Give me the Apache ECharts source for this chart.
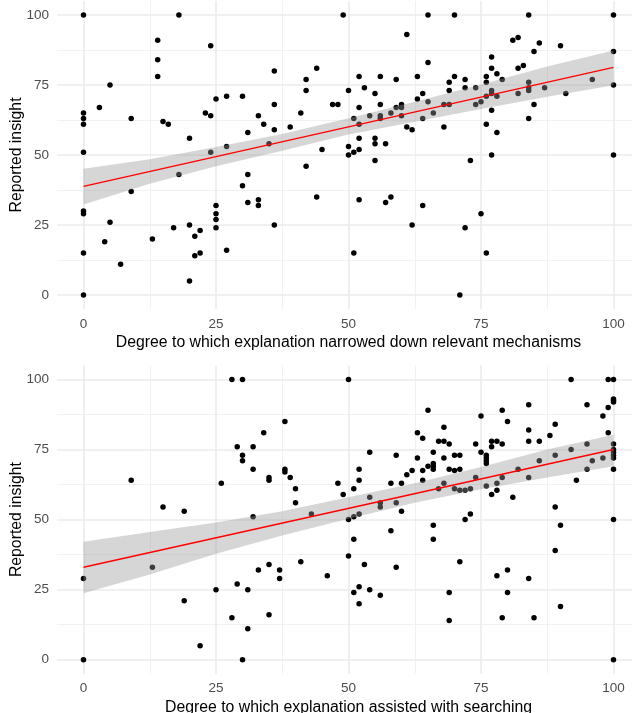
<!DOCTYPE html>
<html><head><meta charset="utf-8">
<script src="https://cdn.jsdelivr.net/npm/echarts@6/dist/echarts.min.js"></script>
<style>html,body{margin:0;padding:0;background:#fff}#c{width:632px;height:713px}</style>
</head><body><div id="c"></div>
<script>
// ---- Data: top panel (narrowed down relevant mechanisms) ----
const topX = [0,0,0,0,0,3,5,9,14,14,14,18,15,16,20,23,24,24,25,27,24,27,30,31,33,34,36,36,36,35,39,41,42,42,44,45,
 49,47,48,50,52,53,55,56,59,61,63,65,65,64,63,65,70,69,70,69,72,72,74,76,76,77,77,78,79,77,77,76,78,75,74,81,82,84,86,85,82,83,84,84,84,82,87,90,91,96,100,100,100,85,84,
 51,52,52,54,56,56,56,58,59,60,60,60,61,62,64,66,68,69,68,76,77,78,50,50,51,52,52,55,55,57,55,73,77,100,
 52,57,58,64,62,72,75,76,51,71,
 18,9,0,0,5,4,0,7,0,13,17,20,21,22,21,22,20,25,25,25,25,27,30,31,31,33,33,36,42,44];
const topY = [100,65,63,61,51,67,75,63,91,84,78,100,62,61,56,65,89,64,70,71,51,53,71,58,64,61,80,68,59,54,60,65,73,77,81,52,
 100,68,68,73,78,74,72,78,77,93,78,100,83,72,70,69,100,76,78,73,77,74,74,78,76,85,81,79,77,73,72,71,71,69,68,91,92,100,90,87,81,82,76,74,73,72,74,89,72,77,100,87,75,68,63,
 63,61,67,64,64,63,68,65,67,68,67,64,60,59,63,65,68,68,60,61,66,58,53,50,51,52,56,56,54,54,48,48,50,50,
 34,33,35,32,25,24,29,15,15,0,
 43,37,30,29,26,19,15,11,0,20,24,25,21,23,14,15,5,32,29,27,24,16,39,43,33,34,32,25,46,35];

// ---- Data: bottom panel (assisted with searching) ----
const botX = [9,15,19,28,30,29,30,30,32,32,34,26,35,35,38,38,38,39,40,40,32,43,
 0,0,13,19,22,25,28,29,31,31,30,33,35,35,37,37,41,46,
 50,51,52,60,50,51,53,51,52,52,54,56,58,59,66,66,69,69,71,72,73,78,80,80,79,84,85,89,90,90,100,100,
 50,92,99,100,100,100,100,99,95,98,99,84,79,75,80,84,89,88,84,86,77,78,79,74,77,75,76,76,76,76,
 65,63,64,68,67,68,69,66,63,68,70,71,65,66,66,66,64,69,70,71,62,61,64,67,68,70,71,72,73,74,76,77,78,78,79,82,84,81,
 86,89,92,93,95,95,96,98,100,100,100,100,100,100,89,48,49,51,52,52,54,54,56,56,58,59,59,60];
const botY = [64,54.5,53,100,100,76,73,71,76,68,81,63,65,64,85,68,67,65,61,56,51,52,
 29,0,33,21,5,25,15,27,25,11,0,32,34,16,32,29,35,30,
 50,51,52,53,37,43,34,24,26,20,25,23,46,33,48,43,24,14,35,50,52,30,32,24,15,29,15,39,48,19,50,0,
 100,100,100,100,93,92.5,92,90,91,87,81,91,89,87,85,82,84,80,78,78,78,78,77,77,76,74,73,72,71,70,
 89,81,79,83,78,78,77,74,72,72,73,73,69,70,69,68,67.5,68,67.5,68,67.5,66,64,61,63,61,60.5,60.5,61,65,62,59,60.5,63,65,68,65,58,
 71,73,75,64,77,68,71,72,77,75,74,73,72,68,54.5,63,59,61,64,68,74,58,56,54.5,63,73,56,63];

// ---- Fitted lm line and 95% band ----
const fitX = [0, 100];
const topFit = [38.8, 81.3];
const botFit = [33.0, 75.0];
const bandX = [0, 12.5, 25, 37.5, 50, 62.5, 75, 87.5, 100];
const topUpper = [45.1, 48.5, 52.9, 57.5, 63.1, 69.0, 75.2, 81.6, 87.3];
const topLower = [32.3, 39.7, 46.0, 51.5, 57.3, 61.9, 66.4, 70.8, 74.9];
const botUpper = [42.1, 45.6, 49.0, 53.0, 58.0, 63.0, 68.8, 75.0, 80.3];
const botLower = [23.7, 30.4, 37.8, 44.3, 50.3, 56.0, 60.8, 65.0, 69.0];

const tickValues = [0, 25, 50, 75, 100];
const majorGrid = [0, 25, 50, 75, 100];
const minorGrid = [12.5, 37.5, 62.5, 87.5];
const xTitles = ['Degree to which explanation narrowed down relevant mechanisms',
                 'Degree to which explanation assisted with searching'];
const yTitle = 'Reported insight';

const panels = [
  {xs: topX, ys: topY, fit: topFit, up: topUpper, lo: topLower},
  {xs: botX, ys: botY, fit: botFit, up: botUpper, lo: botLower}
];
const grids = [
  {left: 57, width: 583, top: 1, height: 308, outerBoundsMode: 'none', containLabel: false},
  {left: 57, width: 583, top: 365.5, height: 308.2, outerBoundsMode: 'none', containLabel: false}
];
const font = 'Liberation Sans, Arial, sans-serif';
const xAxes = [], yAxes = [], series = [];
panels.forEach((p, gi) => {
  xAxes.push({gridIndex: gi, type: 'value', min: -5, max: 105,
    axisLine: {show: false}, axisTick: {show: false}, splitLine: {show: false},
    axisLabel: {customValues: tickValues, color: '#4d4d4d', fontSize: 13.5, margin: 8, fontFamily: font},
    name: xTitles[gi], nameLocation: 'middle', nameGap: 26,
    nameTextStyle: {color: '#000', fontSize: 15.8, fontFamily: font}});
  yAxes.push({gridIndex: gi, type: 'value', min: -5, max: 105,
    axisLine: {show: false}, axisTick: {show: false}, splitLine: {show: false},
    axisLabel: {customValues: tickValues, color: '#4d4d4d', fontSize: 13.5, margin: 8, fontFamily: font},
    name: yTitle, nameLocation: 'middle', nameGap: 32, nameMoveOverlap: false,
    nameTextStyle: {color: '#000', fontSize: 15.8, fontFamily: font}});
  const gl = [];
  minorGrid.forEach(v => { gl.push({xAxis: v, lineStyle: {width: 0.9, color: '#efefef'}}); gl.push({yAxis: v, lineStyle: {width: 0.9, color: '#efefef'}}); });
  majorGrid.forEach(v => { gl.push({xAxis: v, lineStyle: {width: 1.6, color: '#ebebeb'}}); gl.push({yAxis: v, lineStyle: {width: 1.6, color: '#ebebeb'}}); });
  series.push({type: 'scatter', xAxisIndex: gi, yAxisIndex: gi, data: [], z: 0, silent: true,
    markLine: {z: 0, silent: true, symbol: 'none', label: {show: false}, animation: false,
      lineStyle: {type: 'solid'}, emphasis: {disabled: true}, data: gl}});
  series.push({type: 'scatter', xAxisIndex: gi, yAxisIndex: gi, symbolSize: 5.5,
    itemStyle: {color: '#000', opacity: 1}, data: p.xs.map((x, i) => [x, p.ys[i]]), z: 2});
  series.push({type: 'custom', xAxisIndex: gi, yAxisIndex: gi, data: [[0, 0]], z: 3, silent: true,
    renderItem: (params, api) => {
      const pts = bandX.map((x, i) => api.coord([x, p.up[i]]))
        .concat(bandX.map((x, i) => api.coord([x, p.lo[i]])).reverse());
      return {type: 'polygon', shape: {points: pts}, style: {fill: 'rgba(153,153,153,0.4)'}};
    }});
  series.push({type: 'line', xAxisIndex: gi, yAxisIndex: gi, data: fitX.map((x, i) => [x, p.fit[i]]),
    showSymbol: false, z: 4, lineStyle: {color: '#ff0000', width: 1.4}, silent: true});
});

const chart = echarts.init(document.getElementById('c'), null, {renderer: 'canvas'});
chart.setOption({animation: false, backgroundColor: '#fff', grid: grids, xAxis: xAxes, yAxis: yAxes, series});
</script></body></html>
